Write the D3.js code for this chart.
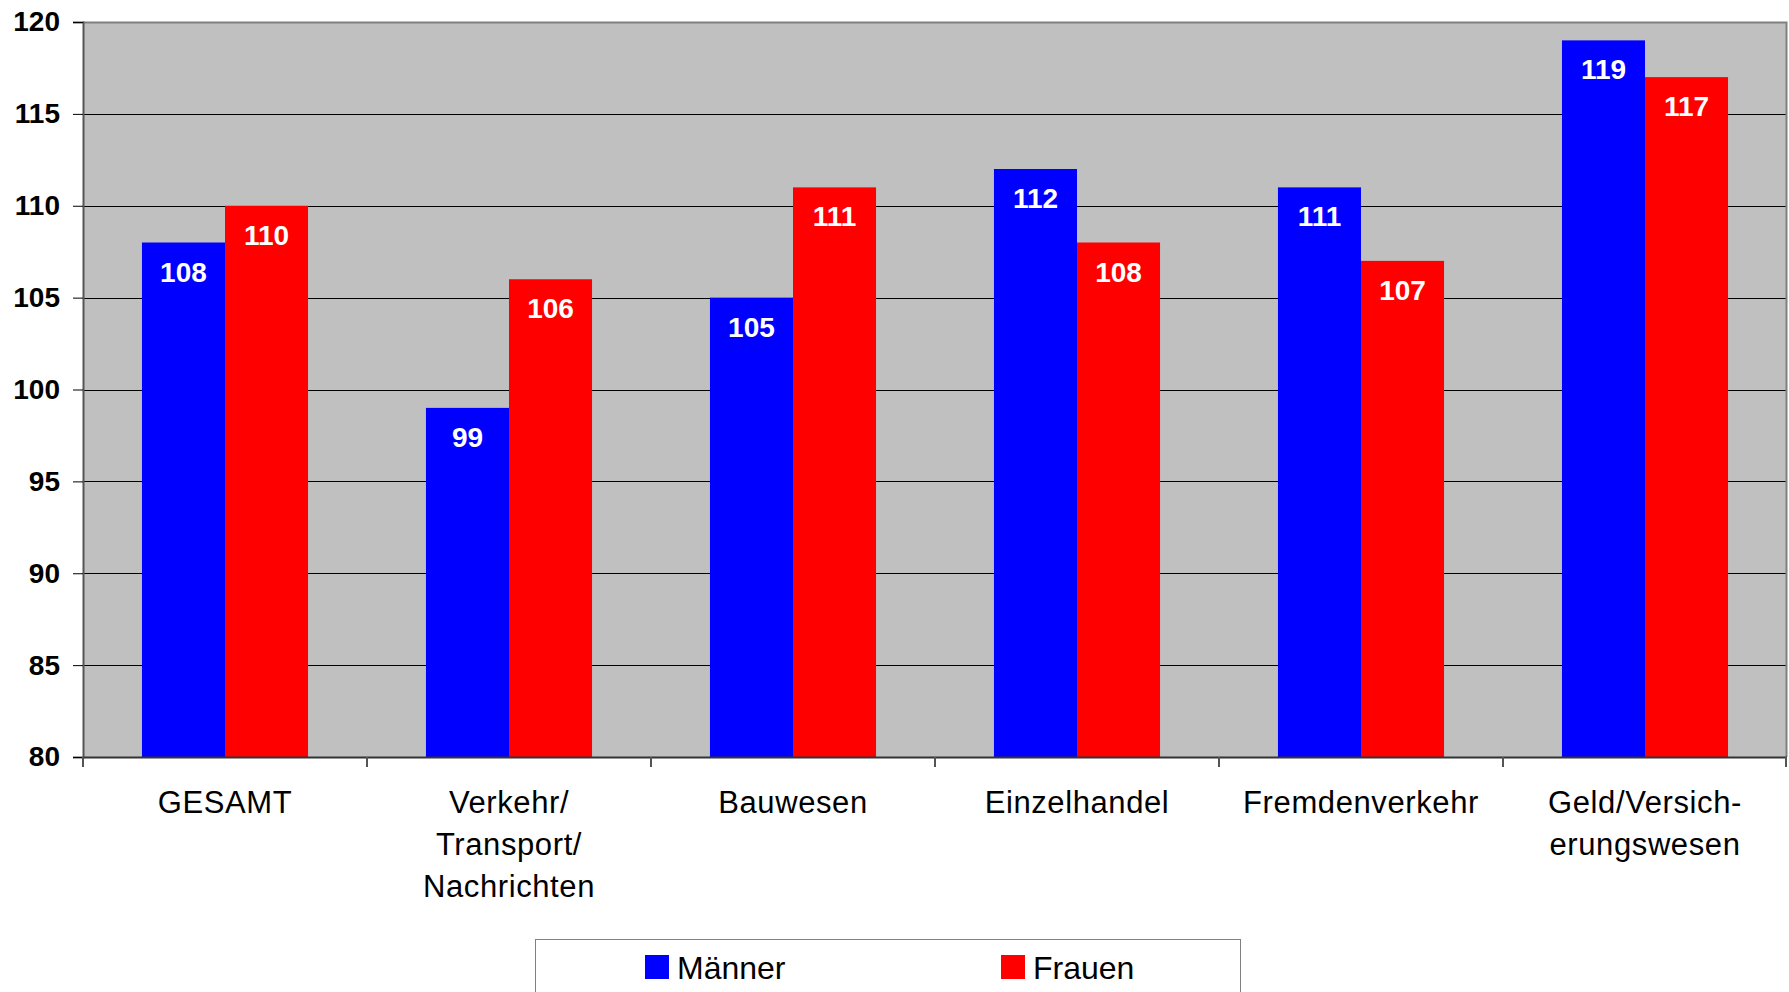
<!DOCTYPE html>
<html>
<head>
<meta charset="utf-8">
<script src="https://cdn.jsdelivr.net/npm/d3@7"></script>
<style>
  body { margin: 0; background: #fff; }
  svg text { font-family: "Liberation Sans", Arial, sans-serif; }
</style>
</head>
<body>
<div id="chart"></div>
<script>
var categories = [["GESAMT"], ["Verkehr/", "Transport/", "Nachrichten"], ["Bauwesen"],
                  ["Einzelhandel"], ["Fremdenverkehr"], ["Geld/Versich-", "erungswesen"]];
var series = ["Männer", "Frauen"];
var maenner = [108, 99, 105, 112, 111, 119];
var frauen = [110, 106, 111, 108, 107, 117];
var yTicks = [80, 85, 90, 95, 100, 105, 110, 115, 120];
var colors = ["#0000ff", "#ff0000"];

var W = 1789, H = 992;
var margin = {top: 22, right: 2, bottom: 235, left: 83},
    width = W - margin.left - margin.right,
    height = H - margin.top - margin.bottom;

var svg = d3.select("#chart").append("svg")
    .attr("width", W).attr("height", H)
  .append("g")
    .attr("transform", "translate(" + margin.left + "," + margin.top + ")");

var idx = d3.range(categories.length);
var x0 = d3.scaleBand().domain(idx).range([0, width]).padding(0);
var x1 = d3.scaleBand().domain(series).range([0, x0.bandwidth()])
    .paddingInner(0).paddingOuter(0.71);
var y = d3.scaleLinear().domain([80, 120]).range([height, 0]);
var color = d3.scaleOrdinal().domain(series).range(colors);

// plot area
svg.append("rect")
  .attr("width", width).attr("height", height)
  .attr("fill", "#c0c0c0");

// gridlines
svg.append("g").selectAll("line")
  .data(yTicks.filter(function(d) { return d > 80 && d < 120; }))
  .enter().append("line")
    .attr("x1", 0).attr("x2", width)
    .attr("y1", function(d) { return Math.round(y(d)) + 0.5; })
    .attr("y2", function(d) { return Math.round(y(d)) + 0.5; })
    .attr("stroke", "#000").attr("stroke-width", 1);

// frame top / right
svg.append("path")
  .attr("d", "M0,0.5H" + (width - 0.5) + "V" + height)
  .attr("fill", "none").attr("stroke", "#808080").attr("stroke-width", 2);

// bars
var data = idx.map(function(i) { return {i: i, vals: [maenner[i], frauen[i]]}; });
var groups = svg.append("g").selectAll("g")
  .data(data).enter().append("g")
    .attr("transform", function(d) { return "translate(" + x0(d.i) + ",0)"; });

var bars = groups.selectAll("g")
  .data(function(d) { return series.map(function(s, k) { return {s: s, v: d.vals[k]}; }); })
  .enter().append("g");

bars.append("rect")
  .attr("x", function(d) { return x1(d.s); })
  .attr("y", function(d) { return y(d.v); })
  .attr("width", x1.bandwidth())
  .attr("height", function(d) { return height - y(d.v); })
  .attr("fill", function(d) { return color(d.s); });

bars.append("text")
  .attr("x", function(d) { return x1(d.s) + x1.bandwidth() / 2; })
  .attr("y", function(d) { return y(d.v) + 39; })
  .attr("text-anchor", "middle")
  .attr("fill", "#fff")
  .attr("font-weight", "bold")
  .attr("font-size", "28px")
  .text(function(d) { return d.v; });

// y axis
var yAxis = svg.append("g")
  .call(d3.axisLeft(y).tickValues(yTicks).tickSize(10).tickPadding(13));
yAxis.select(".domain").attr("stroke", "#555").attr("stroke-width", 2);
yAxis.selectAll(".tick line").attr("stroke", "#000");
yAxis.selectAll(".tick text")
  .attr("font-size", "28px").attr("font-weight", "bold").attr("fill", "#000")
  .attr("font-family", "'Liberation Sans', Arial, sans-serif");

// x axis
var xb = svg.append("g").attr("transform", "translate(0," + height + ")");
xb.append("line").attr("x1", 0).attr("x2", width)
  .attr("y1", 0.5).attr("y2", 0.5).attr("stroke", "#333").attr("stroke-width", 2);
xb.selectAll("line.tk")
  .data(d3.range(categories.length + 1))
  .enter().append("line").attr("class", "tk")
    .attr("x1", function(d) { return d < categories.length ? x0(d) : width - 1; })
    .attr("x2", function(d) { return d < categories.length ? x0(d) : width - 1; })
    .attr("y1", 0).attr("y2", 10)
    .attr("stroke", "#555").attr("stroke-width", 2);

var labels = xb.selectAll("text.cat")
  .data(idx).enter().append("text").attr("class", "cat")
    .attr("text-anchor", "middle")
    .attr("font-size", "31px")
    .attr("letter-spacing", "0.6px")
    .attr("fill", "#000");
labels.selectAll("tspan")
  .data(function(i) { return categories[i].map(function(t) { return {i: i, t: t}; }); })
  .enter().append("tspan")
    .attr("x", function(d) { return x0(d.i) + x0.bandwidth() / 2; })
    .attr("y", function(d, k) { return 56 + k * 42; })
    .text(function(d) { return d.t; });

// legend
var lg = d3.select("svg").append("g");
lg.append("rect")
  .attr("x", 535.5).attr("y", 939.5).attr("width", 705).attr("height", 70)
  .attr("fill", "#fff").attr("stroke", "#808080").attr("stroke-width", 1);
var lx = [645, 1001];
var items = lg.selectAll("g").data(series).enter().append("g")
  .attr("transform", function(d, i) { return "translate(" + lx[i] + ",955)"; });
items.append("rect").attr("width", 24).attr("height", 24)
  .attr("fill", function(d) { return color(d); });
items.append("text").attr("x", 32).attr("y", 24)
  .attr("font-size", "32px").attr("fill", "#000")
  .text(function(d) { return d; });
</script>
</body>
</html>
